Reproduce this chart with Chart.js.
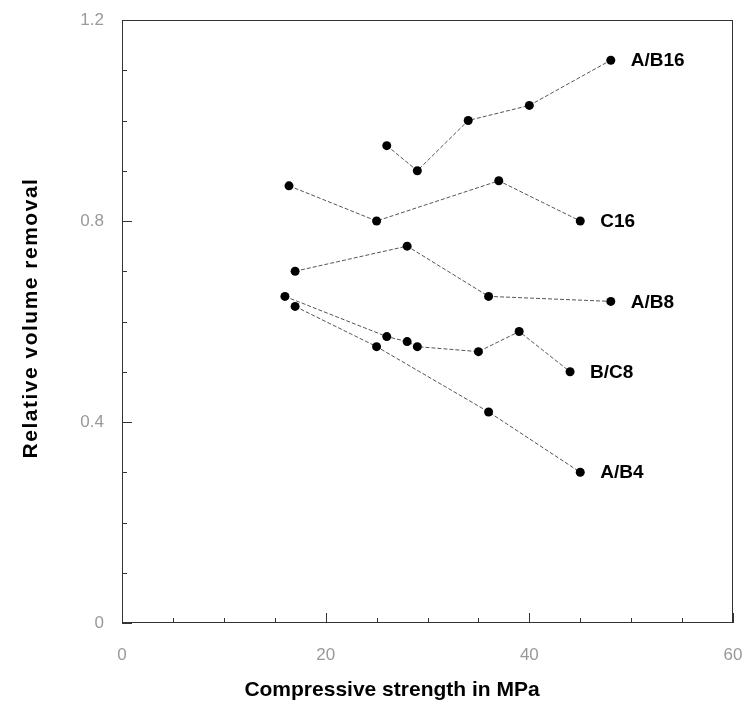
<!DOCTYPE html>
<html>
<head>
<meta charset="utf-8">
<script src="https://cdn.jsdelivr.net/npm/chart.js@4/dist/chart.umd.min.js"></script>
<style>
  html, body { margin: 0; padding: 0; background: #fff; }
  #wrap { width: 744px; height: 711px; }
</style>
</head>
<body>
<div id="wrap"><canvas id="chart" width="744" height="711"></canvas></div>
<script>
// values (x = compressive strength MPa, y = relative volume removal)
const seriesNames = ['A/B16', 'C16', 'A/B8', 'B/C8', 'A/B4'];
const ab16X = [26, 29, 34, 40, 48];
const ab16Y = [0.95, 0.90, 1.00, 1.03, 1.12];
const c16X = [16.4, 25, 37, 45];
const c16Y = [0.87, 0.80, 0.88, 0.80];
const ab8X = [17, 28, 36, 48];
const ab8Y = [0.70, 0.75, 0.65, 0.64];
const bc8X = [16, 26, 28, 29, 35, 39, 44];
const bc8Y = [0.65, 0.57, 0.56, 0.55, 0.54, 0.58, 0.50];
const ab4X = [17, 25, 36, 45];
const ab4Y = [0.63, 0.55, 0.42, 0.30];
const xTickLabels = [0, 20, 40, 60];
const yTickLabels = [0, 0.4, 0.8, 1.2];
const xTitle = 'Compressive strength in MPa';
const yTitle = 'Relative volume removal';

const allX = [ab16X, c16X, ab8X, bc8X, ab4X];
const allY = [ab16Y, c16Y, ab8Y, bc8Y, ab4Y];

const toPoints = (xs, ys) => xs.map((x, i) => ({ x: x, y: ys[i] }));

const datasets = seriesNames.map((name, i) => ({
  label: name,
  data: toPoints(allX[i], allY[i]),
  borderColor: '#555',
  borderWidth: 1,
  borderDash: [4, 2],
  pointRadius: 4.5,
  pointBackgroundColor: '#000',
  pointBorderColor: '#000',
  pointBorderWidth: 0,
  showLine: true,
  fill: false
}));

const FONT = '"Liberation Sans", Arial, sans-serif';

// frame, inward ticks, axis titles and end-of-line labels
const decor = {
  id: 'decor',
  afterDatasetsDraw(chart) {
    const ctx = chart.ctx;
    const area = chart.chartArea;
    const xs = chart.scales.x, ys = chart.scales.y;
    ctx.save();
    ctx.strokeStyle = '#333';
    ctx.lineWidth = 1;
    ctx.strokeRect(area.left + 0.5, area.top + 0.5, area.right - area.left - 1, area.bottom - area.top - 1);
    ctx.beginPath();
    xs.ticks.forEach(t => {
      const px = Math.round(xs.getPixelForValue(t.value)) + 0.5;
      const len = xTickLabels.includes(t.value) ? 10 : 5;
      ctx.moveTo(px, area.bottom);
      ctx.lineTo(px, area.bottom - len);
    });
    ys.ticks.forEach(t => {
      const py = Math.round(ys.getPixelForValue(t.value)) + 0.5;
      const major = yTickLabels.some(v => Math.abs(v - t.value) < 1e-6);
      ctx.moveTo(area.left, py);
      ctx.lineTo(area.left + (major ? 10 : 5), py);
    });
    ctx.stroke();

    ctx.fillStyle = '#000';
    ctx.textBaseline = 'middle';
    ctx.textAlign = 'center';
    ctx.font = 'bold 21px ' + FONT;
    ctx.fillText(xTitle, 392, 690);
    ctx.save();
    ctx.translate(31, 318);
    ctx.rotate(-Math.PI / 2);
    ctx.letterSpacing = '1.5px';
    ctx.fillText(yTitle, 0, 0);
    ctx.restore();

    ctx.font = 'bold 19px ' + FONT;
    ctx.textAlign = 'left';
    chart.data.datasets.forEach((ds, i) => {
      const meta = chart.getDatasetMeta(i);
      const last = meta.data[meta.data.length - 1];
      ctx.fillText(ds.label, last.x + 20, last.y + 1);
    });
    ctx.restore();
  }
};

new Chart(document.getElementById('chart'), {
  type: 'scatter',
  data: { datasets: datasets },
  options: {
    responsive: false,
    animation: false,
    layout: { padding: { top: 20, right: 11, left: 0, bottom: 0 } },
    plugins: { legend: { display: false }, tooltip: { enabled: false } },
    scales: {
      x: {
        type: 'linear',
        min: 0, max: 60,
        afterFit(scale) { scale.height = 88; scale.paddingLeft = 0; scale.paddingRight = 0; },
        grid: { display: false, drawTicks: false },
        border: { display: false },
        ticks: {
          stepSize: 5,
          autoSkip: false,
          maxRotation: 0,
          padding: 22,
          color: '#999',
          font: { family: FONT, size: 17 },
          callback: v => xTickLabels.includes(v) ? String(v) : ''
        }
      },
      y: {
        type: 'linear',
        min: 0, max: 1.2,
        afterFit(scale) { scale.width = 122; scale.paddingTop = 0; scale.paddingBottom = 0; },
        grid: { display: false, drawTicks: false },
        border: { display: false },
        ticks: {
          stepSize: 0.1,
          autoSkip: false,
          padding: 18,
          color: '#999',
          font: { family: FONT, size: 17 },
          callback: v => {
            const hit = yTickLabels.find(t => Math.abs(t - v) < 1e-6);
            return hit === undefined ? '' : String(hit);
          }
        }
      }
    }
  },
  plugins: [decor]
});
</script>
</body>
</html>
